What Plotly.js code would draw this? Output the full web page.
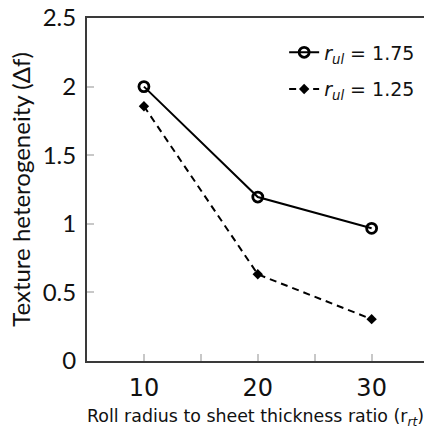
<!DOCTYPE html>
<html>
<head>
<meta charset="utf-8">
<script src="https://cdn.plot.ly/plotly-3.0.1.min.js"></script>
<style>html,body{margin:0;padding:0;overflow:hidden;background:#fff;}#chart{width:425px;height:429px;}</style>
</head>
<body>
<div id="chart"></div>
<script>
var ratios = [10, 20, 30];
var rul175 = [2.0, 1.195, 0.967];
var rul125 = [1.857, 0.632, 0.305];
var seriesNames = ['<i>r</i><sub><i>ul</i></sub> = 1.75', '<i>r</i><sub><i>ul</i></sub> = 1.25'];
var yTicks = [0, 0.5, 1, 1.5, 2, 2.5];
var yTickText = ['0', '0.5', '1', '1.5', '2', '2.5'];

var traces = [
  {x: ratios, y: rul175, name: seriesNames[0], legendgroup: 'a', type: 'scatter', mode: 'lines+markers',
   line: {color: '#000', width: 2},
   marker: {symbol: 'circle-open', size: 10, color: '#000', line: {width: 2.8, color: '#000'}}},
  {x: ratios, y: rul125, name: seriesNames[1], legendgroup: 'b', type: 'scatter', mode: 'lines+markers',
   line: {color: '#000', width: 2, dash: '7px,5px'},
   marker: {symbol: 'diamond', size: 8, color: '#000'}}
];

var layout = {
  width: 425, height: 429,
  margin: {l: 87, r: 1, t: 18, b: 68},
  paper_bgcolor: '#fff', plot_bgcolor: '#fff',
  showlegend: true,
  legend: {x: 0.585, xanchor: 'left', y: 0.955, yanchor: 'top', bgcolor: 'rgba(0,0,0,0)',
           traceorder: 'grouped', tracegroupgap: 9,
           font: {family: 'DejaVu Sans', size: 19, color: '#111'}, itemwidth: 30},
  xaxis: {range: [5, 34.6], tickmode: 'linear', tick0: 0, dtick: 10,
          ticks: 'inside', ticklen: 7, tickwidth: 2, tickcolor: '#c8c8c8',
          minor: {tickmode: 'linear', tick0: 0, dtick: 5, ticks: 'inside', ticklen: 7, tickwidth: 2, tickcolor: '#c8c8c8'},
          showline: true, linecolor: '#3a3a3a', linewidth: 2, mirror: true,
          showgrid: false, zeroline: false, ticklabelstandoff: 4,
          tickfont: {family: 'DejaVu Sans', size: 24, color: '#111'},
          title: {text: 'Roll radius to sheet thickness ratio (r<sub><i>rt</i></sub>)',
                  font: {family: 'DejaVu Sans', size: 17.4, color: '#111'}, standoff: 17}},
  yaxis: {range: [0, 2.5], tickvals: yTicks, ticktext: yTickText,
          ticks: 'inside', ticklen: 7, tickwidth: 2, tickcolor: '#c8c8c8',
          showline: true, linecolor: '#3a3a3a', linewidth: 2,
          showgrid: false, zeroline: false, ticklabelstandoff: 4,
          tickfont: {family: 'Lato', size: 24, color: '#111'},
          title: {text: 'Texture heterogeneity (Δf)', font: {family: 'Lato', size: 24, color: '#111'}, standoff: 5}}
};
Plotly.newPlot('chart', traces, layout, {staticPlot: true, displayModeBar: false});
</script>
</body>
</html>
